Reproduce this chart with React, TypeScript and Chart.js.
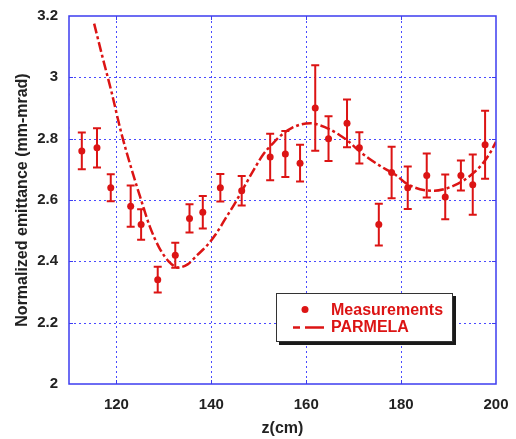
import { useEffect, useRef } from "react";
import { Chart, registerables } from "chart.js";

Chart.register(...registerables);

// Measured emittance along the beamline: position (cm), value and error half-width (mm-mrad)
const measuredZ = [109.2, 112.7, 115.9, 118.8, 123.0, 125.2, 128.7, 132.4, 135.4, 138.2, 141.9, 146.4, 152.4, 155.6, 158.7, 161.9, 164.7, 168.6, 171.2, 175.3, 178.0, 181.4, 185.4, 189.3, 192.6, 195.1, 197.7];
const measuredEmit = [2.89, 2.76, 2.77, 2.64, 2.58, 2.52, 2.34, 2.42, 2.54, 2.56, 2.64, 2.63, 2.74, 2.75, 2.72, 2.9, 2.8, 2.85, 2.77, 2.52, 2.69, 2.64, 2.68, 2.61, 2.68, 2.65, 2.78];
const measuredErr = [0.054, 0.06, 0.064, 0.044, 0.067, 0.05, 0.042, 0.041, 0.046, 0.053, 0.045, 0.048, 0.076, 0.075, 0.06, 0.139, 0.073, 0.078, 0.051, 0.068, 0.084, 0.069, 0.072, 0.073, 0.049, 0.098, 0.111];

// PARMELA simulation curve
const parmelaZ = [115.3, 117, 119, 121, 123, 125, 127, 129, 131, 133, 135, 137, 139, 141, 143, 145, 147, 149, 151, 153, 155, 157, 159, 161, 163, 165, 167, 169, 171, 173, 175, 177, 179, 181, 183, 185, 187, 189, 191, 193, 195, 197, 199, 200];
const parmelaEmit = [3.175, 3.07, 2.95, 2.82, 2.71, 2.61, 2.515, 2.445, 2.4, 2.38, 2.39, 2.42, 2.45, 2.49, 2.54, 2.59, 2.645, 2.7, 2.75, 2.785, 2.815, 2.835, 2.847, 2.85, 2.843, 2.83, 2.812, 2.79, 2.762, 2.738, 2.717, 2.698, 2.68, 2.655, 2.64, 2.632, 2.63, 2.635, 2.646, 2.662, 2.685, 2.715, 2.76, 2.79];

const xTickValues = [120, 140, 160, 180, 200];
const xGridValues = [120, 140, 160, 180];
const yGridValues = [2.2, 2.4, 2.6, 2.8, 3.0];

const legendLabels = ["Measurements", "PARMELA"];
const xTitle = "z(cm)";
const yTitle = "Normalized emittance (mm-mrad)";

const RED = "#dc1414";
const FRAME_BLUE = "#3c3cf0";
const GRID_BLUE = "#4a4aff";
const TEXT = "#222222";
const FONT = "'Liberation Sans', Arial, sans-serif";
const DASH = [10, 3, 3, 3];

const decorPlugin = {
  id: "decor",
  beforeDatasetsDraw(chart: any) {
    const { ctx, chartArea: a } = chart;
    const x = chart.scales.x;
    const y = chart.scales.y;
    ctx.save();
    // dotted grid
    ctx.strokeStyle = GRID_BLUE;
    ctx.lineWidth = 1;
    ctx.setLineDash([2, 3]);
    for (const v of xGridValues) {
      const px = Math.round(x.getPixelForValue(v)) + 0.5;
      ctx.beginPath();
      ctx.moveTo(px, a.top);
      ctx.lineTo(px, a.bottom);
      ctx.stroke();
    }
    for (const v of yGridValues) {
      const py = Math.round(y.getPixelForValue(v)) + 0.5;
      ctx.beginPath();
      ctx.moveTo(a.left, py);
      ctx.lineTo(a.right, py);
      ctx.stroke();
    }
    ctx.setLineDash([]);
    // error bars
    ctx.beginPath();
    ctx.rect(a.left, a.top, a.right - a.left, a.bottom - a.top);
    ctx.clip();
    ctx.strokeStyle = RED;
    ctx.lineWidth = 2;
    measuredZ.forEach((z, i) => {
      const px = x.getPixelForValue(z);
      const hi = y.getPixelForValue(measuredEmit[i] + measuredErr[i]);
      const lo = y.getPixelForValue(measuredEmit[i] - measuredErr[i]);
      ctx.beginPath();
      ctx.moveTo(px, hi);
      ctx.lineTo(px, lo);
      ctx.moveTo(px - 4, hi);
      ctx.lineTo(px + 4, hi);
      ctx.moveTo(px - 4, lo);
      ctx.lineTo(px + 4, lo);
      ctx.stroke();
    });
    ctx.restore();
  },
  afterDatasetsDraw(chart: any) {
    const { ctx, chartArea: a } = chart;
    const x = chart.scales.x;
    const y = chart.scales.y;
    ctx.save();
    // frame
    ctx.strokeStyle = FRAME_BLUE;
    ctx.lineWidth = 1.5;
    ctx.strokeRect(a.left, a.top, a.right - a.left, a.bottom - a.top);
    // inward tick marks
    ctx.lineWidth = 1;
    for (const v of xGridValues) {
      const px = Math.round(x.getPixelForValue(v)) + 0.5;
      ctx.beginPath();
      ctx.moveTo(px, a.bottom);
      ctx.lineTo(px, a.bottom - 4);
      ctx.moveTo(px, a.top);
      ctx.lineTo(px, a.top + 4);
      ctx.stroke();
    }
    for (const v of yGridValues) {
      const py = Math.round(y.getPixelForValue(v)) + 0.5;
      ctx.beginPath();
      ctx.moveTo(a.left, py);
      ctx.lineTo(a.left + 4, py);
      ctx.moveTo(a.right, py);
      ctx.lineTo(a.right - 4, py);
      ctx.stroke();
    }
    // legend box with shadow
    const bx = 276, by = 293, bw = 177, bh = 49;
    ctx.fillStyle = "#1a1a1a";
    ctx.fillRect(bx + 3, by + 3, bw, bh);
    ctx.fillStyle = "#ffffff";
    ctx.fillRect(bx, by, bw, bh);
    ctx.strokeStyle = "#333333";
    ctx.lineWidth = 1;
    ctx.strokeRect(bx + 0.5, by + 0.5, bw - 1, bh - 1);
    ctx.fillStyle = RED;
    ctx.beginPath();
    ctx.arc(305, 309.5, 3.5, 0, Math.PI * 2);
    ctx.fill();
    ctx.strokeStyle = RED;
    ctx.lineWidth = 2.5;
    ctx.beginPath();
    ctx.moveTo(293, 327.5);
    ctx.lineTo(300, 327.5);
    ctx.moveTo(305, 327.5);
    ctx.lineTo(324, 327.5);
    ctx.stroke();
    ctx.font = `bold 16px ${FONT}`;
    ctx.textBaseline = "middle";
    ctx.textAlign = "left";
    ctx.fillText(legendLabels[0], 331, 311);
    ctx.fillText(legendLabels[1], 331, 328);
    ctx.restore();
  },
};

export default function App() {
  const canvasRef = useRef<HTMLCanvasElement | null>(null);

  useEffect(() => {
    if (!canvasRef.current) return;
    const chart = new Chart(canvasRef.current, {
      type: "scatter",
      data: {
        datasets: [
          {
            label: legendLabels[0],
            data: measuredZ.map((z, i) => ({ x: z, y: measuredEmit[i] })),
            backgroundColor: RED,
            borderColor: RED,
            pointRadius: 3.5,
            pointBorderWidth: 0,
            showLine: false,
            clip: 0,
            order: 0,
          },
          {
            label: legendLabels[1],
            data: parmelaZ.map((z, i) => ({ x: z, y: parmelaEmit[i] })),
            borderColor: RED,
            backgroundColor: RED,
            borderWidth: 2.5,
            borderDash: DASH,
            pointRadius: 0,
            showLine: true,
            cubicInterpolationMode: "monotone",
            clip: 0,
            order: 1,
          } as any,
        ],
      },
      options: {
        animation: false,
        responsive: false,
        devicePixelRatio: 1,
        layout: { padding: { top: 16, right: 20, left: 0, bottom: 0 } },
        plugins: { legend: { display: false }, tooltip: { enabled: false } },
        scales: {
          x: {
            type: "linear",
            min: 110,
            max: 200,
            afterBuildTicks: (scale: any) => {
              scale.ticks = xTickValues.map((v) => ({ value: v }));
            },
            afterFit: (scale: any) => {
              scale.height = 55;
              scale.paddingLeft = 0;
              scale.paddingRight = 0;
            },
            grid: { display: false, drawTicks: false },
            border: { display: false },
            ticks: {
              padding: 12,
              color: TEXT,
              font: { family: FONT, size: 15, weight: "bold" },
              maxRotation: 0,
              callback: (v: any) => String(v),
            },
            title: {
              display: true,
              text: xTitle,
              color: TEXT,
              font: { family: FONT, size: 16, weight: "bold" },
              padding: { top: 0, bottom: 1 },
            },
          },
          y: {
            type: "linear",
            min: 2,
            max: 3.2,
            ticks: {
              stepSize: 0.2,
              padding: 11,
              color: TEXT,
              font: { family: FONT, size: 15, weight: "bold" },
              callback: (v: any) => String(Math.round(Number(v) * 10) / 10),
            },
            afterFit: (scale: any) => {
              scale.width = 69;
              scale.paddingTop = 0;
              scale.paddingBottom = 0;
            },
            grid: { display: false, drawTicks: false },
            border: { display: false },
            title: {
              display: true,
              text: yTitle,
              color: TEXT,
              font: { family: FONT, size: 16, weight: "bold" },
              padding: { top: 13, bottom: 0 },
            },
          },
        },
      },
      plugins: [decorPlugin],
    } as any);
    return () => chart.destroy();
  }, []);

  return (
    <div style={{ position: "fixed", left: 0, top: 0, width: 516, height: 439, background: "#ffffff" }}>
      <canvas ref={canvasRef} width={516} height={439} style={{ display: "block" }} />
    </div>
  );
}
